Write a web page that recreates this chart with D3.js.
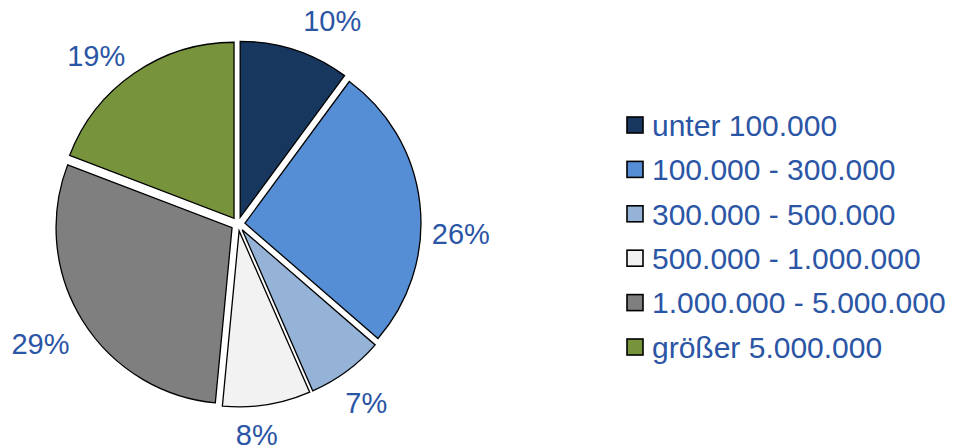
<!DOCTYPE html>
<html>
<head>
<meta charset="utf-8">
<script src="https://cdn.jsdelivr.net/npm/d3@7"></script>
<style>
  body { margin: 0; background: #fff; }
  svg { display: block; }
</style>
</head>
<body>
<svg id="chart" width="961" height="446"></svg>
<script>
// categories and shares (percent), clockwise from 12 o'clock
const categories = ['unter 100.000', '100.000 - 300.000', '300.000 - 500.000',
                    '500.000 - 1.000.000', '1.000.000 - 5.000.000', 'größer 5.000.000'];
const shares = [10, 26, 7, 8, 29, 19];
const colors = ['#17375E', '#558ED5', '#95B3D7', '#F2F2F2', '#7F7F7F', '#77933C'];

const textColor = '#2B55A5';
const font = 'Liberation Sans, Arial, sans-serif';
const svg = d3.select('#chart');

const cx = 238, cy = 224, r = 176;
const explode = 7;     // outward offset of every slice
// label placement, roughly like Excel's best fit
const labelR = [224, 223, 220, 211, 231, 220];
const labelNudge = [6.7, 8.7, 0.7, 4.0, 0.6, -5.6];   // degrees

const pie = d3.pie().sort(null).value(d => d);
const arcs = pie(shares);
const arc = d3.arc().innerRadius(0).outerRadius(r);
const mid = d => (d.startAngle + d.endAngle) / 2;

const g = svg.append('g').attr('transform', `translate(${cx},${cy})`);

g.selectAll('path')
  .data(arcs)
  .enter()
  .append('path')
  .attr('d', arc)
  .attr('fill', (d, i) => colors[i])
  .attr('stroke', '#000')
  .attr('stroke-width', 1.3)
  .attr('transform', d => `translate(${explode * Math.sin(mid(d))},${-explode * Math.cos(mid(d))})`);

// percent labels
const la = (d, i) => mid(d) + labelNudge[i] * Math.PI / 180;
g.selectAll('text.pct')
  .data(arcs)
  .enter()
  .append('text')
  .attr('class', 'pct')
  .attr('x', (d, i) => labelR[i] * Math.sin(la(d, i)))
  .attr('y', (d, i) => -labelR[i] * Math.cos(la(d, i)))
  .attr('dy', '0.36em')
  .attr('text-anchor', 'middle')
  .attr('font-family', font)
  .attr('font-size', 29)
  .attr('fill', textColor)
  .text(d => d.data + '%');

// legend
const legend = svg.append('g').attr('transform', 'translate(627,125)');
const rowH = 44.4;

const item = legend.selectAll('g')
  .data(categories)
  .enter()
  .append('g')
  .attr('transform', (d, i) => `translate(0,${i * rowH})`);

item.append('rect')
  .attr('x', 0)
  .attr('y', -8)
  .attr('width', 16)
  .attr('height', 16)
  .attr('fill', (d, i) => colors[i])
  .attr('stroke', '#000')
  .attr('stroke-width', 1.6);

item.append('text')
  .attr('x', 25)
  .attr('y', 0)
  .attr('dy', '0.36em')
  .attr('font-family', font)
  .attr('font-size', 30)
  .attr('fill', textColor)
  .text(d => d);
</script>
</body>
</html>
